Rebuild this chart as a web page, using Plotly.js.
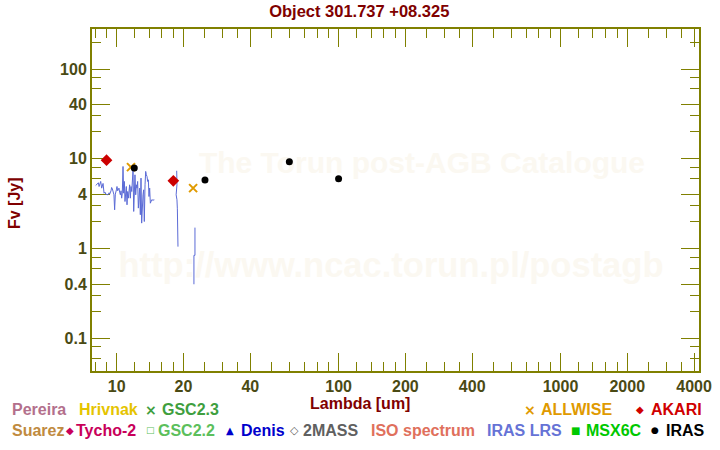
<!DOCTYPE html>
<html>
<head>
<meta charset="utf-8">
<script src="https://cdn.plot.ly/plotly-3.0.1.min.js"></script>
<style>html,body{margin:0;padding:0;background:#fff;}#chart{width:720px;height:450px;}</style>
</head>
<body>
<div id="chart"></div>
<script>
// ---------------- DATA ----------------
const lrsLambda = [8.04,8.15,8.27,8.33,8.39,8.47,8.56,8.62,8.68,8.77,8.86,8.92,9.05,9.14,9.24,9.30,9.43,9.49,9.56,9.63,9.72,9.79,9.86,9.97,10.03,10.10,10.17,10.24,10.31,10.39,10.46,10.53,10.60,10.68,10.75,10.83,10.90,10.98,11.05,11.13,11.21,11.29,11.36,11.44,11.52,11.60,11.69,11.77,11.85,11.93,12.01,12.09,12.18,12.26,12.35,12.43,12.52,12.60,12.69,12.78,12.87,12.96,13.05,13.14,13.23,13.32,13.42,13.51,13.60,13.70,13.79,13.89,13.98,14.08,14.18,14.28,14.38,14.58,14.78,
  16.0,
  18.64,18.69,18.53,18.69,18.77,18.89,
  20.0,
  22.53,22.53,22.29,22.29];
const lrsFlux = [5.04,5.22,5.40,4.91,5.22,5.59,4.71,5.04,5.31,4.14,4.25,4.04,4.04,3.97,4.18,4.04,4.40,4.79,4.63,4.32,3.97,2.70,4.04,4.51,4.91,4.40,4.59,4.71,4.25,3.97,4.40,3.64,4.14,8.21,4.14,5.59,3.34,3.97,4.91,3.07,4.32,3.64,4.71,5.13,3.64,4.91,4.32,5.59,7.54,2.59,4.91,6.63,3.97,5.13,4.71,5.59,2.82,3.34,4.71,2.38,6.09,1.92,3.07,3.97,4.51,2.00,5.13,7.23,6.63,6.35,5.59,5.83,3.80,4.71,3.20,3.34,3.49,3.46,3.49,
  null,
  7.35,5.13,3.97,3.49,2.77,1.05,
  null,
  1.71,0.84,0.84,0.40];

const akariLambda = [9, 18];
const akariFlux = [9.65, 5.68];
const allwiseLambda = [11.6, 22.1];
const allwiseFlux = [8.08, 4.71];
const irasLambda = [12, 25, 60, 100];
const irasFlux = [7.87, 5.79, 9.26, 5.99];

const xMajor = [10, 20, 40, 100, 200, 400, 1000, 2000, 4000];
const xMajorText = ['10', '20', '40', '100', '200', '400', '1000', '2000', '4000'];
const xMinor = [8, 9, 12, 14, 16, 18, 25, 30, 35, 50, 60, 70, 80, 90, 120, 140, 160, 180, 250, 300, 350, 500, 600, 700, 800, 900, 1200, 1400, 1600, 1800, 2500, 3000, 3500];
const yMajor = [0.1, 0.4, 1, 4, 10, 40, 100];
const yMajorText = ['0.1', '0.4', '1', '4', '10', '40', '100'];
const yMinor = [0.06, 0.08, 0.2, 0.3, 0.6, 0.8, 2, 3, 6, 8, 20, 30, 60, 80, 200];

const legendLabels = ['Pereira', 'Hrivnak', 'GSC2.3', 'ALLWISE', 'AKARI',
                      'Suarez', 'Tycho-2', 'GSC2.2', 'Denis', '2MASS', 'ISO spectrum', 'IRAS LRS', 'MSX6C', 'IRAS'];
const legendSymbols = ['', '', '×', '×', '◆',
                       '', '◆', '□', '▲', '◇', '', '', '■', '●'];
const legendColors = ['#b3708c', '#e5c400', '#3f9f3f', '#e09a00', '#d00000',
                      '#c08a40', '#c8005a', '#5cbf5c', '#0000cc', '#606060', '#e0705c', '#6673d6', '#00c800', '#000000'];

const titleText = 'Object 301.737 +08.325';
const xTitle = 'Lambda [um]';
const yTitle = 'Fv [Jy]';
const watermark1 = 'The Torun post-AGB Catalogue';
const watermark2 = 'http://www.ncac.torun.pl/postagb';

// ---------------- LAYOUT ----------------
const W = 720, H = 450;
const M = {l: 92, r: 21, t: 29, b: 79};
const PW = W - M.l - M.r, PH = H - M.t - M.b;
function px(x) { return (x - M.l) / PW; }
function py(y) { return (H - M.b - y) / PH; }

// legend positions: [symbolX, labelX, rowY]
const legendPos = [
  [null, 11, 410], [null, 77.5, 410], [150.5, 160.5, 410], [530, 540, 410], [640, 649.5, 410],
  [null, 10.5, 430], [70, 75, 430], [150.5, 156.5, 430], [230, 240, 430], [294.5, 301.5, 430],
  [null, 370, 430], [null, 486, 430], [575, 585, 430], [655, 665, 430]
];
const symbolSize = {'×': 14, '◆': 10, '□': 9, '▲': 10, '◇': 11, '■': 10, '●': 9};

const FONT = 'Liberation Sans, Arial, Helvetica, sans-serif';
const olive = '#808000';
const tickTextColor = '#4a4a14';
const wmColor = '#fbf8f1';

// watermark as shape labels drawn below the traces
const shapes = [
  {type: 'rect', xref: 'paper', yref: 'paper', layer: 'below',
   x0: px(422) - 0.4, x1: px(422) + 0.4, y0: py(159) - 0.05, y1: py(159) + 0.05,
   line: {width: 0}, fillcolor: 'rgba(0,0,0,0)',
   label: {text: watermark1, textposition: 'middle center', font: {family: FONT, size: 30, color: wmColor, weight: 'bold'}}},
  {type: 'rect', xref: 'paper', yref: 'paper', layer: 'below',
   x0: px(391) - 0.47, x1: px(391) + 0.47, y0: py(261) - 0.05, y1: py(261) + 0.05,
   line: {width: 0}, fillcolor: 'rgba(0,0,0,0)',
   label: {text: watermark2, textposition: 'middle center', font: {family: FONT, size: 34.5, color: wmColor, weight: 'bold'}}}
];

const annotations = [];
annotations.push({text: xTitle, xref: 'paper', yref: 'paper', x: px(360), y: py(403), showarrow: false,
  font: {family: FONT, size: 16, color: '#800000', weight: 'bold'}, xanchor: 'center', yanchor: 'middle'});
annotations.push({text: yTitle, xref: 'paper', yref: 'paper', x: px(14), y: py(203), showarrow: false, textangle: -90,
  font: {family: FONT, size: 16, color: '#800000', weight: 'bold'}, xanchor: 'center', yanchor: 'middle'});

legendLabels.forEach((lab, i) => {
  const p = legendPos[i];
  const sym = legendSymbols[i];
  if (sym) {
    annotations.push({text: sym, xref: 'paper', yref: 'paper', x: px(p[0]), y: py(p[2]), showarrow: false,
      font: {family: 'DejaVu Sans, sans-serif', size: symbolSize[sym], color: legendColors[i], weight: 'bold'},
      xanchor: 'center', yanchor: 'middle'});
  }
  annotations.push({text: lab, xref: 'paper', yref: 'paper', x: px(p[1]), y: py(p[2]), showarrow: false,
    font: {family: FONT, size: 16, color: legendColors[i], weight: 'bold'},
    xanchor: 'left', yanchor: 'middle', borderpad: 0});
});

const traces = [
  {x: lrsLambda, y: lrsFlux, type: 'scatter', mode: 'lines', connectgaps: false,
   line: {color: '#5b6bd6', width: 1}, name: 'IRAS LRS'},
  {x: akariLambda, y: akariFlux, type: 'scatter', mode: 'markers', name: 'AKARI',
   marker: {symbol: 'diamond', size: 9, color: '#cc0000', line: {width: 0}}},
  {x: allwiseLambda, y: allwiseFlux, type: 'scatter', mode: 'markers', name: 'ALLWISE',
   marker: {symbol: 'x-thin', size: 8, color: '#e09a00', line: {color: '#e09a00', width: 2}}},
  {x: irasLambda, y: irasFlux, type: 'scatter', mode: 'markers', name: 'IRAS',
   marker: {symbol: 'circle', size: 7, color: '#000000', line: {width: 0}}}
];

const axisCommon = {
  type: 'log', showgrid: false, zeroline: false, showline: true, linecolor: olive, linewidth: 2,
  mirror: 'ticks', ticks: 'inside', ticklen: 18, tickwidth: 1, tickcolor: olive,
  tickmode: 'array', layer: 'below traces',
  tickfont: {family: FONT, size: 16, color: tickTextColor, weight: 'bold'}
};

const layout = {
  width: W, height: H, margin: M,
  paper_bgcolor: '#ffffff', plot_bgcolor: '#ffffff',
  showlegend: false,
  title: {text: titleText, xref: 'container', yref: 'container', x: 0.499, y: 0.975,
          xanchor: 'center', yanchor: 'middle',
          font: {family: FONT, size: 16.5, color: '#800000', weight: 'bold'}},
  xaxis: Object.assign({}, axisCommon, {
    range: [Math.log10(7.74), Math.log10(4210)],
    tickvals: xMajor, ticktext: xMajorText,
    minor: {tickmode: 'array', tickvals: xMinor, ticks: 'inside', ticklen: 9, tickwidth: 1, tickcolor: olive, showgrid: false}
  }),
  yaxis: Object.assign({}, axisCommon, {
    range: [-1.3645, 2.446],
    tickvals: yMajor, ticktext: yMajorText,
    minor: {tickmode: 'array', tickvals: yMinor, ticks: 'inside', ticklen: 9, tickwidth: 1, tickcolor: olive, showgrid: false}
  }),
  shapes: shapes,
  annotations: annotations
};

Plotly.newPlot('chart', traces, layout, {staticPlot: true, displayModeBar: false});
</script>
</body>
</html>
